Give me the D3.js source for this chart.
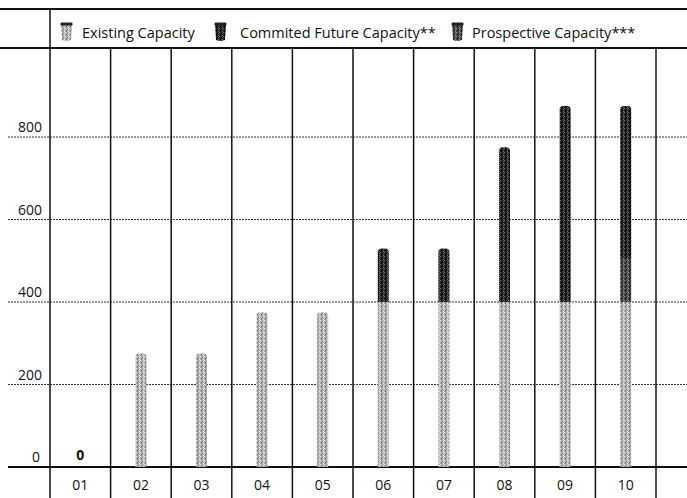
<!DOCTYPE html>
<html>
<head>
<meta charset="utf-8">
<script src="https://cdn.jsdelivr.net/npm/d3@7"></script>
<style>
  html, body { margin: 0; padding: 0; background: #fff; }
  svg { display: block; }
  text { font-family: "Open Sans", "Noto Sans", sans-serif; fill: #111; }
</style>
</head>
<body>
<svg id="chart" width="687" height="498"></svg>
<script>
// Capacity per period, stacked from the bottom up
const categories = ["01", "02", "03", "04", "05", "06", "07", "08", "09", "10"];
const existing    = [0, 275, 275, 375, 375, 400, 400, 400, 400, 400];
const prospective = [0, 0, 0, 0, 0, 0, 0, 0, 0, 105];
const committed   = [0, 0, 0, 0, 0, 130, 130, 375, 475, 370];
const yTicks = [0, 200, 400, 600, 800];
const legendItems = [
  { key: "existing", label: "Existing Capacity" },
  { key: "committed", label: "Commited Future Capacity**" },
  { key: "prospective", label: "Prospective Capacity***" }
];
const stackOrder = ["existing", "prospective", "committed"];

const W = 687, H = 498;
const svg = d3.select("#chart");

const x = d3.scaleBand().domain(categories).range([50, 656]).paddingInner(0);
const y = d3.scaleLinear().domain([0, 1000]).range([467, 54.5]);

// speckled fills for the bars
const fills = {
  existing:    { base: "#b4b4b4", dark: "#7a7a7a", light: "#e2e2e2" },
  committed:   { base: "#262626", dark: "#000000", light: "#6d6d6d" },
  prospective: { base: "#4a4a4a", dark: "#1a1a1a", light: "#8e8e8e" }
};
const defs = svg.append("defs");
Object.entries(fills).forEach(([key, c]) => {
  const p = defs.append("pattern")
    .attr("id", "fill-" + key)
    .attr("patternUnits", "userSpaceOnUse")
    .attr("width", 4).attr("height", 4);
  p.append("rect").attr("width", 4).attr("height", 4).attr("fill", c.base);
  [[0, 0, c.light], [2, 1, c.dark], [1, 2, c.dark], [3, 3, c.light], [3, 1, c.light], [1, 3, c.dark]]
    .forEach(([px, py, col]) => p.append("rect").attr("x", px).attr("y", py)
      .attr("width", 1).attr("height", 1).attr("fill", col));
});

// frame lines of the header row
svg.append("line").attr("x1", 0).attr("x2", W).attr("y1", 9).attr("y2", 9)
  .attr("stroke", "#111").attr("stroke-width", 2);
svg.append("line").attr("x1", 0).attr("x2", W).attr("y1", 48).attr("y2", 48)
  .attr("stroke", "#111").attr("stroke-width", 2);

// horizontal grid
const gridTicks = yTicks.filter(t => t > 0);
svg.append("g").selectAll("line").data(gridTicks).join("line")
  .attr("x1", 8).attr("x2", W)
  .attr("y1", d => y(d)).attr("y2", d => y(d))
  .attr("stroke", "#333").attr("stroke-width", 1)
  .attr("stroke-dasharray", "2,1");

// column separators
const edges = categories.map(c => x(c)).concat([x.range()[1]]);
svg.append("g").selectAll("line").data(edges).join("line")
  .attr("x1", d => d).attr("x2", d => d)
  .attr("y1", (d, i) => i === 0 ? 9 : 48).attr("y2", H)
  .attr("stroke", "#111").attr("stroke-width", 1.5);

// baseline
svg.append("line").attr("x1", 8).attr("x2", W).attr("y1", y(0)).attr("y2", y(0))
  .attr("stroke", "#111").attr("stroke-width", 2);

// y tick labels
svg.append("g").selectAll("text").data(yTicks).join("text")
  .attr("x", d => d === 0 ? 40 : 42)
  .attr("y", d => y(d) - 5)
  .attr("text-anchor", "end")
  .attr("font-size", 14)
  .text(d => d);

// x tick labels
svg.append("g").selectAll("text").data(categories).join("text")
  .attr("x", d => x(d) + x.bandwidth() / 2)
  .attr("y", 490)
  .attr("text-anchor", "middle")
  .attr("font-size", 14)
  .text(d => d);

// stacked bars with a rounded cap on the topmost segment
const stack = d3.stack().keys(stackOrder)(categories.map((c, i) => ({
  cat: c, existing: existing[i], prospective: prospective[i], committed: committed[i]
})));
const barW = 11;
const totals = categories.map((c, i) => existing[i] + prospective[i] + committed[i]);
function segPath(x0, yTop, yBot, rounded) {
  const r = rounded ? 3.5 : 0;
  return `M${x0},${yBot}V${yTop + r}` +
    (r ? `Q${x0},${yTop} ${x0 + r},${yTop}H${x0 + barW - r}Q${x0 + barW},${yTop} ${x0 + barW},${yTop + r}`
       : `H${x0 + barW}`) +
    `V${yBot}Z`;
}
stack.forEach(layer => {
  const key = layer.key;
  svg.append("g").selectAll("path")
    .data(layer.filter(d => d[1] > d[0]))
    .join("path")
    .attr("d", d => {
      const i = categories.indexOf(d.data.cat);
      const x0 = x(d.data.cat) + x.bandwidth() / 2 - barW / 2;
      return segPath(x0, y(d[1]), y(d[0]), d[1] === totals[i]);
    })
    .attr("fill", `url(#fill-${key})`);
});

// zero-value marker
categories.forEach((c, i) => {
  if (totals[i] === 0) {
    svg.append("text")
      .attr("x", x(c) + x.bandwidth() / 2)
      .attr("y", y(0) - 7)
      .attr("text-anchor", "middle")
      .attr("font-size", 14).attr("font-weight", 700)
      .text("0");
  }
});

// legend: cup-shaped swatch plus label
const legendPos = [61, 215, 452];
const labelPos = [82, 240, 472];
const lg = svg.append("g").selectAll("g").data(legendItems).join("g");
lg.append("path")
  .attr("transform", (d, i) => `translate(${legendPos[i]},0)`)
  .attr("d", "M0,24 H11 L10,40 Q5.5,42 1,40 Z")
  .attr("fill", d => `url(#fill-${d.key})`);
lg.append("rect")
  .attr("x", (d, i) => legendPos[i] - 0.5).attr("y", 22.5)
  .attr("width", 12).attr("height", 3)
  .attr("rx", 1.2).attr("fill", "#222");
lg.append("text")
  .attr("x", (d, i) => labelPos[i]).attr("y", 38)
  .attr("font-size", 14.5)
  .text(d => d.label);
</script>
</body>
</html>
